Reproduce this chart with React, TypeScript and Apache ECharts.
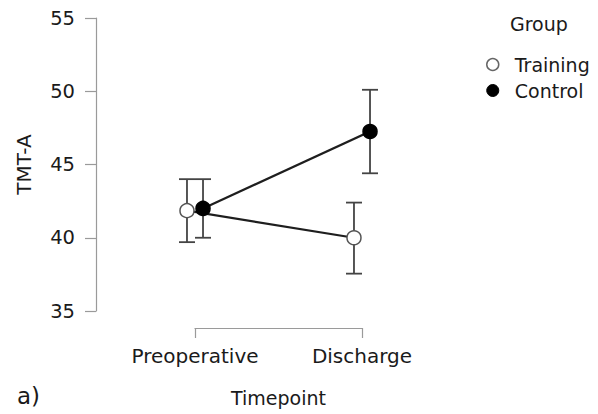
import React, { useEffect, useRef } from "react";
import * as echarts from "echarts";

const categories = ["Preoperative", "Discharge"];
const trainingMean = [41.85, 40.0];
const trainingLow = [39.7, 37.55];
const trainingHigh = [44.0, 42.4];
const controlMean = [42.0, 47.25];
const controlLow = [40.0, 44.4];
const controlHigh = [44.0, 50.1];
const yTicks = [35, 40, 45, 50, 55];

const FONT = "DejaVu Sans";
const DODGE = 0.048;

export default function App() {
  const ref = useRef<HTMLDivElement>(null);
  useEffect(() => {
    if (!ref.current) return;
    const chart = echarts.init(ref.current, undefined, { renderer: "svg" });

    const groups = [
      { name: "Training", mean: trainingMean, lo: trainingLow, hi: trainingHigh, off: -DODGE, fill: "#ffffff" },
      { name: "Control", mean: controlMean, lo: controlLow, hi: controlHigh, off: DODGE, fill: "#000000" },
    ];

    const series: any[] = [];
    groups.forEach((g) => {
      series.push({
        type: "custom",
        name: g.name + " err",
        clip: false,
        silent: true,
        z: 1,
        data: g.mean.map((m, i) => [i + g.off, m, g.lo[i], g.hi[i]]),
        renderItem: (params: any, api: any) => {
          const x = api.value(0);
          const lo = api.coord([x, api.value(2)]);
          const hi = api.coord([x, api.value(3)]);
          const cap = 8;
          const style = { stroke: "#444444", lineWidth: 1.8 };
          return {
            type: "group",
            children: [
              { type: "line", shape: { x1: lo[0], y1: lo[1], x2: hi[0], y2: hi[1] }, style },
              { type: "line", shape: { x1: lo[0] - cap, y1: lo[1], x2: lo[0] + cap, y2: lo[1] }, style },
              { type: "line", shape: { x1: hi[0] - cap, y1: hi[1], x2: hi[0] + cap, y2: hi[1] }, style },
            ],
          };
        },
      });
    });
    groups.forEach((g) => {
      series.push({
        type: "line",
        name: g.name,
        clip: false,
        z: 3,
        data: g.mean.map((m, i) => [i + g.off, m]),
        symbol: "circle",
        symbolSize: 14,
        lineStyle: { color: "#1e1e1e", width: 2.2 },
        itemStyle: { color: g.fill, borderColor: g.fill === "#ffffff" ? "#555555" : "#000000", borderWidth: 1.5 },
      });
    });

    chart.setOption({
      animation: false,
      backgroundColor: "#ffffff",
      title: {
        text: "Group",
        left: 505,
        top: 9,
        textStyle: { fontFamily: FONT, fontSize: 19, fontWeight: "normal", color: "#1a1a1a" },
      },
      legend: {
        orient: "vertical",
        left: 481,
        top: 50,
        itemWidth: 12,
        itemHeight: 12,
        itemGap: 7,
        icon: "circle",
        data: [
          { name: "Training", itemStyle: { color: "#ffffff", borderColor: "#666666", borderWidth: 1.5 } },
          { name: "Control", itemStyle: { color: "#000000", borderColor: "#000000", borderWidth: 1 } },
        ],
        textStyle: { fontFamily: FONT, fontSize: 19, color: "#1a1a1a", padding: [0, 0, 0, 11] },
      },
      graphic: [
        {
          type: "text",
          left: 17,
          top: 384,
          style: { text: "a)", fontFamily: FONT, fontSize: 23, fill: "#1a1a1a" },
        },
      ],
      grid: { left: 195, right: 598 - 362, top: 18, bottom: 414 - 311 },
      xAxis: {
        type: "value",
        min: 0,
        max: 1,
        interval: 1,
        offset: 17,
        splitLine: { show: false },
        axisLine: { show: true, onZero: false, lineStyle: { color: "#9a9a9a", width: 1.2 } },
        axisTick: { show: true, length: 10, lineStyle: { color: "#9a9a9a", width: 1.2 } },
        axisLabel: {
          margin: 18,
          fontFamily: FONT,
          fontSize: 20,
          color: "#1a1a1a",
          formatter: (v: number) => categories[Math.round(v)] ?? "",
        },
        name: "Timepoint",
        nameLocation: "middle",
        nameGap: 60,
        nameTextStyle: { fontFamily: FONT, fontSize: 19, color: "#1a1a1a" },
      },
      yAxis: {
        type: "value",
        min: yTicks[0],
        max: yTicks[yTicks.length - 1],
        interval: 5,
        offset: 195 - 96,
        splitLine: { show: false },
        axisLine: { show: true, onZero: false, lineStyle: { color: "#9a9a9a", width: 1.2 } },
        axisTick: { show: true, length: 11, lineStyle: { color: "#9a9a9a", width: 1.2 } },
        axisLabel: { margin: 21, fontFamily: FONT, fontSize: 19.5, color: "#1a1a1a" },
        name: "TMT-A",
        nameLocation: "middle",
        nameRotate: 90,
        nameGap: 62,
        nameTextStyle: { fontFamily: FONT, fontSize: 20, color: "#1a1a1a" },
      },
      series,
    });
    return () => chart.dispose();
  }, []);
  return <div ref={ref} style={{ position: "fixed", left: 0, top: 0, width: 598, height: 414 }} />;
}
